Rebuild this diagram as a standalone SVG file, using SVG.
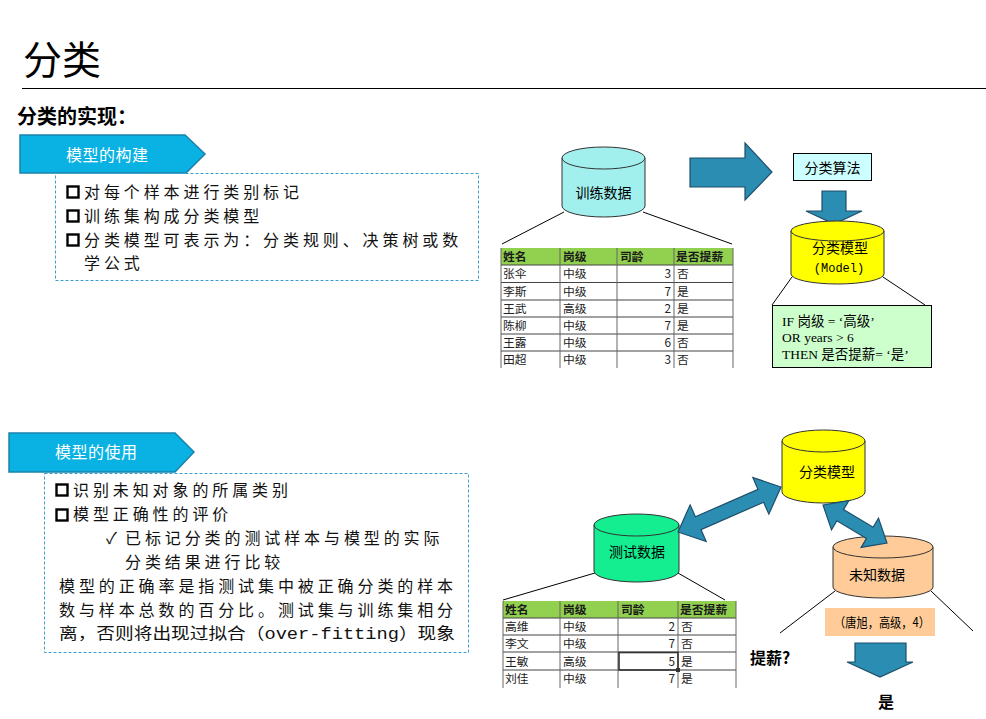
<svg xmlns="http://www.w3.org/2000/svg" width="986" height="719" viewBox="0 0 986 719">
<style>
.cjk{font-family:"Noto Sans CJK SC","Noto Sans",sans-serif}
.cyl{stroke:#333;stroke-width:1}
.lbl{font-family:"Noto Sans CJK SC",sans-serif;font-size:14px;fill:#000;text-anchor:middle}
.body{font-family:"Noto Sans CJK SC",sans-serif;font-size:16px;letter-spacing:3.9px;fill:#111}
.tb{font-family:"Noto Sans CJK SC",sans-serif;font-size:11.8px;fill:#222}
.th{font-weight:bold;fill:#1a1a1a}
.num{text-anchor:end}
.arrow{fill:#2C8DB3;stroke:#1D4E6A;stroke-width:1.2}
.ban{fill:#0AB2E4;stroke:#1A82AA;stroke-width:1.5}
.bant{font-family:"Noto Sans CJK SC",sans-serif;font-size:16px;letter-spacing:0.5px;fill:#fff}
.dash{fill:none;stroke:#3A9FCF;stroke-width:1;stroke-dasharray:3 2}
.sq{fill:none;stroke:#000;stroke-width:2.4}
.hl{stroke:#444;stroke-width:1}
.vl{stroke:#666;stroke-width:1}
.ln{stroke:#000;stroke-width:1;fill:none}
</style>

<!-- Title -->
<g id="title">
<text x="23" y="74" font-family="Liberation Serif,'Noto Sans CJK SC',serif" font-size="39" fill="#000">分类</text>
<line x1="22" y1="88.5" x2="986" y2="88.5" stroke="#000" stroke-width="1.2"/>
<text x="17" y="124" class="cjk" font-size="20" font-weight="bold" fill="#000">分类的实现：</text>
</g>

<!-- Section 1 -->
<g id="banner1">
<polygon class="ban" points="20,135 185,135 205,154 186,173 20,173"/>
<text class="bant" x="66" y="161">模型的构建</text>
</g>
<g id="box1">
<rect class="dash" x="55.5" y="173.5" width="423" height="107"/>
<rect class="sq" x="67.5" y="186.5" width="11" height="11"/>
<text class="body" x="84" y="198">对每个样本进行类别标记</text>
<rect class="sq" x="67.5" y="210.5" width="11" height="11"/>
<text class="body" x="84" y="222">训练集构成分类模型</text>
<rect class="sq" x="67.5" y="234.5" width="11" height="11"/>
<text class="body" x="84" y="246">分类模型可表示为：分类规则、决策树或数</text>
<text class="body" x="84" y="269">学公式</text>
</g>

<!-- Section 2 -->
<g id="banner2">
<polygon class="ban" points="9,433 175,433 194,452 175,472 9,472"/>
<text class="bant" x="55" y="458">模型的使用</text>
</g>
<g id="box2">
<rect class="dash" x="44.5" y="473.5" width="424" height="179"/>
<rect class="sq" x="56.5" y="484.5" width="11" height="11"/>
<text class="body" x="73" y="496">识别未知对象的所属类别</text>
<rect class="sq" x="56.5" y="509.5" width="11" height="11"/>
<text class="body" x="73" y="520">模型正确性的评价</text>
<text class="body" x="106" y="544">✓</text>
<text class="body" x="125" y="544">已标记分类的测试样本与模型的实际</text>
<text class="body" x="125" y="568">分类结果进行比较</text>
<text class="body" x="59" y="592">模型的正确率是指测试集中被正确分类的样本</text>
<text class="body" x="59" y="615.5">数与样本总数的百分比。测试集与训练集相分</text>
<text class="body" x="59" y="639" textLength="396" lengthAdjust="spacingAndGlyphs" style="letter-spacing:0">离，否则将出现过拟合（<tspan font-family="Liberation Mono,monospace">over-fitting</tspan>）现象</text>
</g>

<!-- Connectors -->
<g id="connectors">
<line class="ln" x1="564" y1="212" x2="502" y2="244"/>
<line class="ln" x1="643" y1="212" x2="732" y2="244"/>
<line class="ln" x1="792" y1="277" x2="772" y2="305"/>
<line class="ln" x1="883" y1="277" x2="925" y2="305"/>
<line class="ln" x1="595" y1="573" x2="503" y2="600"/>
<line class="ln" x1="678" y1="573" x2="725" y2="600"/>
<line class="ln" x1="835" y1="591" x2="780" y2="633"/>
<line class="ln" x1="931" y1="591" x2="973" y2="631"/>
<polygon class="arrow" points="690,158 745,158 745,143 772,172 745,200 745,187 690,187"/>
<polygon class="arrow" points="822,191 846,191 846,211 862,211 834,224 806,211 822,211"/>
<polygon class="arrow" points="855,643 906,643 906,662 913,662 880,677 847,662 855,662"/>
</g>

<!-- Training data cylinder -->
<g id="train-data">
<path class="cyl" fill="#A2F0EE" d="M562,158 L562,206 A41.5,11 0 0 0 645,206 L645,158 Z"/>
<ellipse class="cyl" fill="#A2F0EE" cx="603.5" cy="158" rx="41.5" ry="11"/>
<text class="lbl" x="603.5" y="198">训练数据</text>
</g>

<!-- Training table -->
<g id="train-table">
<rect x="501" y="248" width="232" height="17" fill="#92D050"/>
<rect x="501" y="265" width="232" height="103" fill="#fff"/>
<line class="hl" x1="501" y1="265" x2="733" y2="265"/>
<line class="hl" x1="501" y1="282.5" x2="733" y2="282.5"/>
<line class="hl" x1="501" y1="300" x2="733" y2="300"/>
<line class="hl" x1="501" y1="317" x2="733" y2="317"/>
<line class="hl" x1="501" y1="334" x2="733" y2="334"/>
<line class="hl" x1="501" y1="351" x2="733" y2="351"/>
<line class="vl" x1="501" y1="248" x2="501" y2="368"/>
<line class="vl" x1="560" y1="248" x2="560" y2="368"/>
<line class="vl" x1="617" y1="248" x2="617" y2="368"/>
<line class="vl" x1="674" y1="248" x2="674" y2="368"/>
<line class="vl" x1="733" y1="248" x2="733" y2="368"/>
<g class="tb">
<text class="th" x="503" y="261">姓名</text><text class="th" x="563" y="261">岗级</text><text class="th" x="620" y="261">司龄</text><text class="th" x="676" y="261">是否提薪</text>
<text x="503" y="278">张伞</text><text x="563" y="278">中级</text><text class="num" x="671" y="278">3</text><text x="677" y="278">否</text>
<text x="503" y="295.5">李斯</text><text x="563" y="295.5">中级</text><text class="num" x="671" y="295.5">7</text><text x="677" y="295.5">是</text>
<text x="503" y="312.5">王武</text><text x="563" y="312.5">高级</text><text class="num" x="671" y="312.5">2</text><text x="677" y="312.5">是</text>
<text x="503" y="329.5">陈柳</text><text x="563" y="329.5">中级</text><text class="num" x="671" y="329.5">7</text><text x="677" y="329.5">是</text>
<text x="503" y="346.5">王露</text><text x="563" y="346.5">中级</text><text class="num" x="671" y="346.5">6</text><text x="677" y="346.5">否</text>
<text x="503" y="363.5">田超</text><text x="563" y="363.5">中级</text><text class="num" x="671" y="363.5">3</text><text x="677" y="363.5">否</text>
</g>
</g>

<!-- Classification algorithm box -->
<g id="algo">
<rect x="793.5" y="153.5" width="78" height="27" fill="#CCFFFF" stroke="#000" stroke-width="1"/>
<text class="lbl" x="832.5" y="173">分类算法</text>
</g>

<!-- Model cylinder (top) -->
<g id="model-top">
<path class="cyl" fill="#FFFF00" d="M791,231 L791,274 A46.5,10 0 0 0 884,274 L884,231 Z"/>
<ellipse class="cyl" fill="#FFFF00" cx="837.5" cy="231" rx="46.5" ry="10"/>
<text class="lbl" x="840" y="253" font-size="15">分类模型</text>
<text x="839" y="272" font-family="Liberation Mono,monospace" font-size="12" text-anchor="middle" fill="#000">(Model)</text>
</g>

<!-- Rule box -->
<g id="rule">
<rect x="772.5" y="305.5" width="159" height="62" fill="#CCFFCC" stroke="#000" stroke-width="1"/>
<g font-family="Liberation Serif,'Noto Sans CJK SC',serif" font-size="13.5" fill="#000">
<text x="782" y="326">IF 岗级 = ‘高级’</text>
<text x="782" y="342">OR years &gt; 6</text>
<text x="782" y="359">THEN 是否提薪= ‘是’</text>
</g>
</g>

<!-- Model cylinder (bottom) -->
<g id="model-bottom">
<path class="cyl" fill="#FFFF00" d="M782,441 L782,492 A41.5,11 0 0 0 865,492 L865,441 Z"/>
<ellipse class="cyl" fill="#FFFF00" cx="823.5" cy="441" rx="41.5" ry="11"/>
<text class="lbl" x="827" y="477">分类模型</text>
</g>

<!-- Test data cylinder -->
<g id="test-data">
<path class="cyl" fill="#14EE90" d="M594,525 L594,571 A42.5,11 0 0 0 679,571 L679,525 Z"/>
<ellipse class="cyl" fill="#14EE90" cx="636.5" cy="525" rx="42.5" ry="11"/>
<text class="lbl" x="637" y="557">测试数据</text>
</g>

<!-- Test table -->
<g id="test-table">
<rect x="503" y="601" width="233" height="17" fill="#92D050"/>
<rect x="503" y="618" width="233" height="70" fill="#fff"/>
<line class="hl" x1="503" y1="618" x2="736" y2="618"/>
<line class="hl" x1="503" y1="635" x2="736" y2="635"/>
<line class="hl" x1="503" y1="652" x2="736" y2="652"/>
<line class="hl" x1="503" y1="670" x2="736" y2="670"/>
<line class="vl" x1="503" y1="601" x2="503" y2="688"/>
<line class="vl" x1="560" y1="601" x2="560" y2="688"/>
<line class="vl" x1="618" y1="601" x2="618" y2="688"/>
<line class="vl" x1="678" y1="601" x2="678" y2="688"/>
<line class="vl" x1="736" y1="601" x2="736" y2="688"/>
<rect x="619" y="652.5" width="59" height="17.5" fill="none" stroke="#333" stroke-width="1.6"/>
<rect x="676" y="668" width="4" height="4" fill="#333"/>
<g class="tb">
<text class="th" x="505" y="614">姓名</text><text class="th" x="563" y="614">岗级</text><text class="th" x="621" y="614">司龄</text><text class="th" x="680" y="614">是否提薪</text>
<text x="505" y="631">高维</text><text x="563" y="631">中级</text><text class="num" x="675" y="631">2</text><text x="681" y="631">否</text>
<text x="505" y="648">李文</text><text x="563" y="648">中级</text><text class="num" x="675" y="648">7</text><text x="681" y="648">否</text>
<text x="505" y="665.5">王敏</text><text x="563" y="665.5">高级</text><text class="num" x="675" y="665.5">5</text><text x="681" y="665.5">是</text>
<text x="505" y="683">刘佳</text><text x="563" y="683">中级</text><text class="num" x="675" y="683">7</text><text x="681" y="683">是</text>
</g>
</g>

<!-- Unknown data cylinder -->
<g id="unknown-data">
<path class="cyl" fill="#FFCC99" d="M833,547 L833,587 A50,11 0 0 0 933,587 L933,547 Z"/>
<ellipse class="cyl" fill="#FFCC99" cx="883" cy="547" rx="50" ry="11"/>
<text class="lbl" x="877" y="580">未知数据</text>
</g>

<!-- Double arrows -->
<g id="double-arrows">
<polygon class="arrow" points="678,532 690.15,504.86 695.36,516.78 758.04,489.4 752.83,477.48 781,487 768.85,514.14 763.64,502.22 700.96,529.6 706.17,541.52"/>
<polygon class="arrow" points="823,505 848.89,500.6 843.52,509.63 873.12,527.19 878.49,518.16 887,543 861.11,547.4 866.48,538.37 836.88,520.81 831.51,529.84"/>
</g>

<!-- Unknown sample -->
<g id="sample">
<rect x="825" y="608" width="110" height="28" fill="#FFCC99"/>
<text x="834" y="627" class="cjk" font-size="13" fill="#000" textLength="96" lengthAdjust="spacingAndGlyphs">（唐旭，高级，4）</text>
</g>
<g id="question">
<text x="750" y="664" class="cjk" font-size="16" font-weight="bold" fill="#000">提薪?</text>
</g>
<g id="answer">
<text x="886" y="708" class="cjk" font-size="16" font-weight="bold" fill="#000" text-anchor="middle">是</text>
</g>
</svg>
